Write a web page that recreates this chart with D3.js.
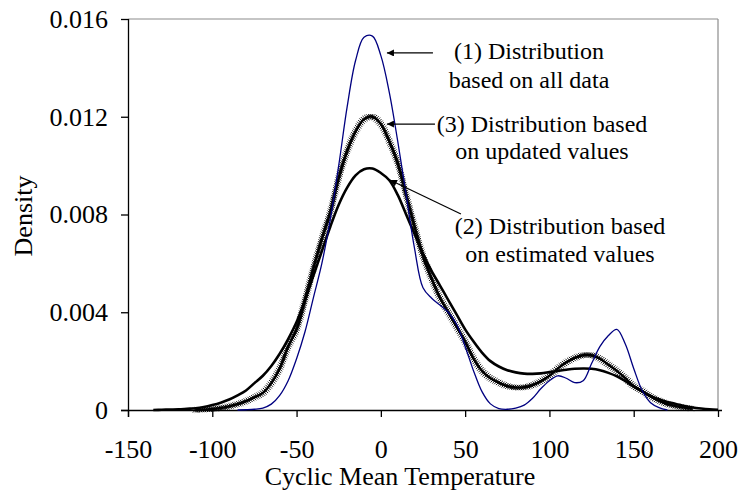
<!DOCTYPE html>
<html>
<head>
<meta charset="utf-8">
<script src="https://cdn.jsdelivr.net/npm/d3@7"></script>
<style>
  html, body { margin: 0; padding: 0; background: #fff; }
  svg { display: block; font-family: "Liberation Serif", "Times New Roman", serif; }
</style>
</head>
<body>
<svg id="chart" width="742" height="492"></svg>
<script>
// ---- data ----
const temps = [-135,-130,-125,-120,-115,-110,-105,-100,-95,-90,-85,-80,-75,-70,-65,-60,-55,-50,-45,-40,-35,-30,-25,-20,-15,-10,-5,0,5,10,15,20,25,30,35,40,45,50,55,60,65,70,75,80,85,90,95,100,105,110,115,120,125,130,135,140,145,150,155,160,165,170,175,180,185,190,195,200];

// (1) distribution based on all data (blue)
const allData = [null,null,null,null,null,null,null,null,null,null,
  0,0.00001,0.00003,0.00008,0.00024,0.0006,0.0012,0.0021,0.0032,0.0046,0.0060,0.0078,0.0100,0.0124,0.0143,0.01525,0.0153,0.0145,0.0130,0.0110,0.0088,0.0066,0.0050,0.00458,0.0043,0.0040,0.0035,0.0026,0.0016,0.00075,0.00025,0.00006,0.00003,0.00008,0.0002,0.00048,0.00088,0.0012,0.0014,0.0013,0.00112,0.0012,0.0019,0.0026,0.00305,0.0033,0.0027,0.0017,0.0008,0.0003,0.0001,0,
  null,null,null,null,null,null];

// (2) distribution based on estimated values (solid black)
const estimated = [0,0.00001,0.00002,0.00003,0.00005,0.00007,0.00012,0.0002,0.0003,0.00043,0.0006,0.0008,0.0011,0.0014,0.0018,0.0023,0.0029,0.0036,0.0045,0.0055,0.0065,0.0075,0.0084,0.0091,0.0096,0.00985,0.00988,0.0097,0.0094,0.0088,0.0080,0.0072,0.0064,0.0057,0.0051,0.0045,0.0039,0.0033,0.0028,0.00235,0.0020,0.00178,0.00163,0.00154,0.00149,0.00148,0.0015,0.00155,0.0016,0.00165,0.00169,0.0017,0.00169,0.00163,0.00152,0.00138,0.00118,0.00096,0.00076,0.00058,0.00044,0.00033,0.00025,0.00016,0.0001,0.00006,0.00003,0.00001];

// (3) distribution based on updated values (black with markers)
const updated = [null,null,null,null,null,
  0,0.00002,0.00004,0.00008,0.00015,0.00024,0.00036,0.00052,0.0007,0.0011,0.0017,0.0026,0.0033,0.0045,0.0058,0.0070,0.0081,0.0095,0.0106,0.0114,0.0119,0.0120,0.0117,0.0110,0.0101,0.0088,0.0075,0.0063,0.0054,0.0046,0.0040,0.0034,0.0028,0.0021,0.0016,0.0013,0.00112,0.00098,0.00092,0.00093,0.00102,0.00118,0.0014,0.0017,0.00195,0.00213,0.00224,0.00224,0.0021,0.00185,0.0016,0.0013,0.00098,0.00078,0.00055,0.00038,0.00024,0.00016,0.0001,0.00005,
  null,null,null];

const xTicks = [-150,-100,-50,0,50,100,150,200];
const yTicks = [0,0.004,0.008,0.012,0.016];
const yTickLabels = ["0","0.004","0.008","0.012","0.016"];

const xTitle = "Cyclic Mean Temperature";
const yTitle = "Density";

// annotations: text lines and arrow tip/tail in data units
const annLines = [
  ["(1) Distribution", "based on all data"],
  ["(3) Distribution based", "on updated values"],
  ["(2) Distribution based", "on estimated values"]
];
const annTips  = [[3.6, 0.01461], [3.6, 0.0117], [5.4, 0.00941]];
const annTails = [[30.9, 0.01461], [32.1, 0.0117], [47.5, 0.00802]];

// ---- layout ----
const L = 128, R = 718, T = 19, B = 410;
const svg = d3.select("#chart");

const x = d3.scaleLinear().domain([-150, 200]).range([L, R]);
const y = d3.scaleLinear().domain([0, 0.016]).range([B, T]);

// frame (top & right gray)
svg.append("line").attr("x1", L).attr("x2", R).attr("y1", T).attr("y2", T)
  .attr("stroke", "#8c8c8c").attr("stroke-width", 1.2);
svg.append("line").attr("x1", R).attr("x2", R).attr("y1", T).attr("y2", B)
  .attr("stroke", "#8c8c8c").attr("stroke-width", 1.2);

// axes
const yAxis = d3.axisLeft(y).tickValues(yTicks).tickSize(7).tickPadding(13)
  .tickFormat((d, i) => yTickLabels[i]);
const gy = svg.append("g").attr("transform", `translate(${L},0)`).call(yAxis);
const xAxis = d3.axisBottom(x).tickValues(xTicks).tickSize(7).tickFormat(d3.format("d"));
const gx = svg.append("g").attr("transform", `translate(0,${B})`).call(xAxis);

[gx, gy].forEach(g => {
  g.select(".domain").attr("stroke", "#000").attr("stroke-width", 1.3);
  g.selectAll(".tick line").attr("stroke", "#000").attr("stroke-width", 1.3);
  g.selectAll(".tick text").attr("fill", "#000")
    .style("font-family", '"Liberation Serif", serif').style("font-size", "26px");
});
gx.select(".domain").attr("d", `M${L - 7},0.5H${R + 4}`);
gy.select(".domain").attr("d", `M0.5,${T}V${B + 7}`);
gx.selectAll(".tick text").attr("dy", null).attr("y", 48)
  .text(d => d < 0 ? "-" + Math.abs(d) : String(d));

// axis titles
svg.append("text").attr("x", 400).attr("y", 485).attr("text-anchor", "middle")
  .style("font-size", "26px").attr("fill", "#000").text(xTitle);
svg.append("text").attr("transform", "translate(32,216) rotate(-90)")
  .attr("text-anchor", "middle").style("font-size", "26px").attr("fill", "#000").text(yTitle);

// series
const mk = vals => d3.line()
  .defined((d, i) => vals[i] !== null)
  .x((d, i) => x(temps[i]))
  .y((d, i) => Math.min(B, y(vals[i])))
  .curve(d3.curveCatmullRom.alpha(0.5));

svg.append("path").datum(estimated).attr("d", mk(estimated)(estimated))
  .attr("fill", "none").attr("stroke", "#000").attr("stroke-width", 2.6);

const upPath = svg.append("path").datum(updated).attr("d", mk(updated)(updated))
  .attr("fill", "none").attr("stroke", "#000").attr("stroke-width", 2.4);

// cross markers along updated curve
const node = upPath.node();
const len = node.getTotalLength();
const pts = d3.range(0, len, 2).map(l => node.getPointAtLength(l));
const s = 2.6;
svg.append("path")
  .attr("d", pts.map(p => `M${p.x - s},${p.y - s}L${p.x + s},${p.y + s}M${p.x - s},${p.y + s}L${p.x + s},${p.y - s}`).join(""))
  .attr("fill", "none").attr("stroke", "#000").attr("stroke-width", 0.9);

svg.append("path").datum(allData).attr("d", mk(allData)(allData))
  .attr("fill", "none").attr("stroke", "#000080").attr("stroke-width", 1.3);

// annotations
svg.append("defs").append("marker").attr("id", "arr")
  .attr("viewBox", "0 0 10 10").attr("refX", 10).attr("refY", 5)
  .attr("markerWidth", 9).attr("markerHeight", 7).attr("markerUnits", "userSpaceOnUse")
  .attr("orient", "auto")
  .append("path").attr("d", "M0,0L10,5L0,10Z").attr("fill", "#000");

annTips.forEach((tip, i) => {
  const tail = annTails[i];
  svg.append("line")
    .attr("x1", x(tail[0])).attr("y1", y(tail[1]))
    .attr("x2", x(tip[0])).attr("y2", y(tip[1]))
    .attr("stroke", "#000").attr("stroke-width", 1.2)
    .attr("marker-end", "url(#arr)");
});

const annPos = [[529, 59, 88], [542, 132, 159], [560, 234, 262]];
annLines.forEach((lines, i) => {
  const p = annPos[i];
  lines.forEach((t, j) => {
    svg.append("text").attr("x", p[0]).attr("y", p[1 + j])
      .attr("text-anchor", "middle").style("font-size", "24px").attr("fill", "#000").text(t);
  });
});
</script>
</body>
</html>
